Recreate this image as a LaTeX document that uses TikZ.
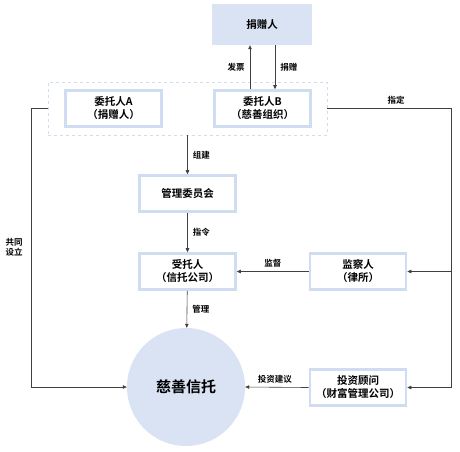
\documentclass[tikz,border=0pt]{standalone}
\usepackage{fontspec}
\newfontfamily\cjk{Noto Sans CJK SC}[BoldFont={Noto Sans CJK SC Bold}]
\usetikzlibrary{arrows.meta}
\definecolor{lb}{HTML}{DAE3F3}
\definecolor{lbd}{HTML}{D0DCF0}
\definecolor{ln}{HTML}{404040}
\begin{document}
\begin{tikzpicture}[x=1pt,y=-1pt,
  box/.style={draw=lbd,line width=2.6pt,fill=white,minimum width=96pt,minimum height=36pt,inner sep=0pt,align=center,font=\cjk\bfseries\fontsize{10.5}{13}\selectfont},
  lab/.style={font=\cjk\bfseries\fontsize{8.5}{10}\selectfont,inner sep=1pt},
  conn/.style={draw=ln,line width=0.6pt,-{Triangle[length=4pt,width=3.5pt]}},
  plain/.style={draw=ln,line width=0.6pt}]
\useasboundingbox (0,0) rectangle (460,451);
\node[fill=lb,minimum width=100pt,minimum height=41pt,inner sep=0pt,font=\cjk\bfseries\fontsize{10.5}{13}\selectfont] (donor) at (262,24.5) {捐赠人};
\node[draw=lbd,dashed,line width=0.8pt,minimum width=279pt,minimum height=53pt,inner sep=0pt] (grp) at (187.5,108.5) {};
\node[box] (A) at (113.5,108.5) {委托人A\\（捐赠人）};
\node[box] (B) at (262.5,108.5) {委托人B\\（慈善组织）};
\node[box] (C) at (187.5,193.5) {管理委员会};
\node[box] (T) at (187.5,271.5) {受托人\\（信托公司）};
\node[box] (S) at (358,271.5) {监察人\\（律所）};
\node[box] (V) at (358,387.5) {投资顾问\\（财富管理公司）};
\node[circle,fill=lb,minimum size=118pt,inner sep=0pt,font=\cjk\bfseries\fontsize{15}{17}\selectfont] (Q) at (186,387) {慈善信托};
% donor arrows
\draw[conn] (B.north -| 250,0) -- (donor.south -| 250,0) node[lab,midway,left=4pt] {发票};
\draw[conn] (donor.south -| 275,0) -- (B.north -| 275,0) node[lab,midway,right=4pt] {捐赠};
\draw[conn] (grp.south) -- (C.north) node[lab,midway,right=4pt] {组建};
\draw[conn] (C) -- (T) node[lab,midway,right=4pt] {指令};
\draw[conn] (T) -- (Q) node[lab,midway,right=4pt] {管理};
\draw[conn] (S) -- (T) node[lab,midway,above=3pt] {监督};
\draw[conn] (V.west) -- (Q.east) node[lab,midway,above=3pt,xshift=-2pt] {投资建议};
\coordinate (L1) at (31,108.5);
\coordinate (L2) at (31,387);
\draw[conn] (grp.west) -- (L1) -- (L2) -- (Q.west);
\node[lab,align=center] (gt) at (14,247) {共同\\设立};
\coordinate (R1) at (451,108.5);
\coordinate (R2) at (451,271.5);
\coordinate (R3) at (451,387.5);
\draw[plain] (grp.east) -- (R1) -- (R3);
\draw[conn] (R2) -- (S.east);
\draw[conn] (R3) -- (V.east);
\node[lab] (zd) at (396,100) {指定};
\end{tikzpicture}
\end{document}
